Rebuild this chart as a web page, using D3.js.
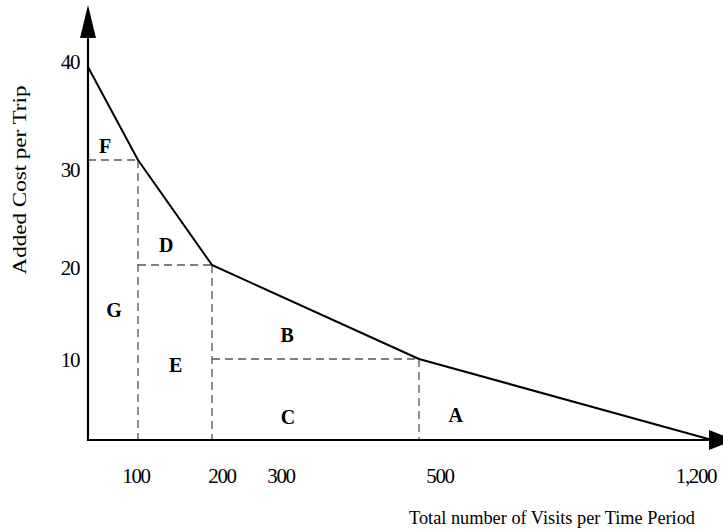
<!DOCTYPE html>
<html><head><meta charset="utf-8">
<script src="https://cdn.jsdelivr.net/npm/d3@7"></script>
<style>
html,body{margin:0;padding:0;background:#fff;}
svg{display:block;}
text{font-family:"Liberation Serif","Times New Roman",serif;fill:#000;}
</style></head>
<body><svg id="chart" width="723" height="531"></svg>
<script>
// Data
const visits = [0, 100, 200, 500, 1200];
const cost = [40, 30, 20, 10, 0];
const xTickValues = [100, 200, 300, 500, 1200];
const xTickLabels = ["100", "200", "300", "500", "1,200"];
const yTickValues = [10, 20, 30, 40];
const yTickLabels = ["10", "20", "30", "40"];
const regionNames = ["F", "D", "G", "E", "B", "C", "A"];
const regionVisits = [34, 138, 52, 151, 309, 310, 588];
const regionCost = [31.5, 21.9, 15.2, 9.3, 12.6, 2.8, 3.1];
const xTitle = "Total number of Visits per Time Period";
const yTitle = "Added Cost per Trip";

const svg = d3.select("#chart");

// schematic (non-proportional) scales
const x = d3.scaleLinear().domain([0, 100, 200, 500, 1200]).range([88, 138, 212, 419, 712]);
const y = d3.scaleLinear().domain([0, 10, 20, 30, 40]).range([440, 359, 265, 160, 67]);
// label placement scales (labels are offset from marks in the schematic)
const xLab = d3.scaleLinear().domain([0, 100, 200, 300, 500, 1200]).range([88, 136, 222, 281, 440, 696]);
const yLab = d3.scaleLinear().domain([0, 10, 20, 30, 40]).range([440, 360, 268, 170, 62]);

const pts = visits.map((v, i) => ({v, c: cost[i]}));

// dashed guides
const dash = svg.append("g").attr("stroke", "#555").attr("stroke-width", 1.3)
  .attr("stroke-dasharray", "8,5").attr("fill", "none");
pts.slice(1, 4).forEach((p, i) => {
  const prev = pts[i];
  dash.append("line").attr("x1", x(prev.v)).attr("x2", x(p.v)).attr("y1", y(p.c)).attr("y2", y(p.c));
  dash.append("line").attr("x1", x(p.v)).attr("x2", x(p.v)).attr("y1", y(p.c)).attr("y2", y(0));
});

// axes
svg.append("line").attr("x1", x(0)).attr("x2", x(0)).attr("y1", y(0) + 1).attr("y2", 36)
  .attr("stroke", "#000").attr("stroke-width", 2.2);
svg.append("path").attr("d", d3.line()([[x(0), 5], [x(0) - 8, 38], [x(0) + 8, 38]]) + "Z").attr("fill", "#000");
svg.append("line").attr("x1", x(0) - 1).attr("x2", 712).attr("y1", y(0)).attr("y2", y(0))
  .attr("stroke", "#000").attr("stroke-width", 2.2);
svg.append("path").attr("d", d3.line()([[734, y(0)], [709, y(0) - 10], [709, y(0) + 10]]) + "Z").attr("fill", "#000");

// demand curve
svg.append("path").datum(pts)
  .attr("d", d3.line().x(d => x(d.v)).y(d => y(d.c)))
  .attr("fill", "none").attr("stroke", "#000").attr("stroke-width", 2).attr("stroke-linejoin", "round");

// tick labels
svg.append("g").selectAll("text").data(xTickValues).join("text")
  .attr("x", d => xLab(d)).attr("y", 483)
  .attr("text-anchor", "middle").attr("font-size", 21).attr("letter-spacing", -1.4)
  .text((d, i) => xTickLabels[i]);
svg.append("g").selectAll("text").data(yTickValues).join("text")
  .attr("x", 79).attr("y", d => yLab(d)).attr("dy", "0.35em")
  .attr("text-anchor", "end").attr("font-size", 21).attr("letter-spacing", -1.4)
  .text((d, i) => yTickLabels[i]);

// region letters
svg.append("g").selectAll("text").data(regionNames).join("text")
  .attr("x", (d, i) => x(regionVisits[i])).attr("y", (d, i) => y(regionCost[i])).attr("dy", "0.35em")
  .attr("text-anchor", "middle").attr("font-weight", "bold").attr("font-size", 20)
  .text(d => d);

// titles
svg.append("text").attr("x", 552).attr("y", 524).attr("text-anchor", "middle")
  .attr("font-size", 18).attr("textLength", 286).attr("lengthAdjust", "spacingAndGlyphs")
  .text(xTitle);
svg.append("text").attr("transform", "translate(26,180) rotate(-90)").attr("text-anchor", "middle")
  .attr("font-size", 19).attr("textLength", 189).attr("lengthAdjust", "spacingAndGlyphs")
  .text(yTitle);
</script></body></html>
